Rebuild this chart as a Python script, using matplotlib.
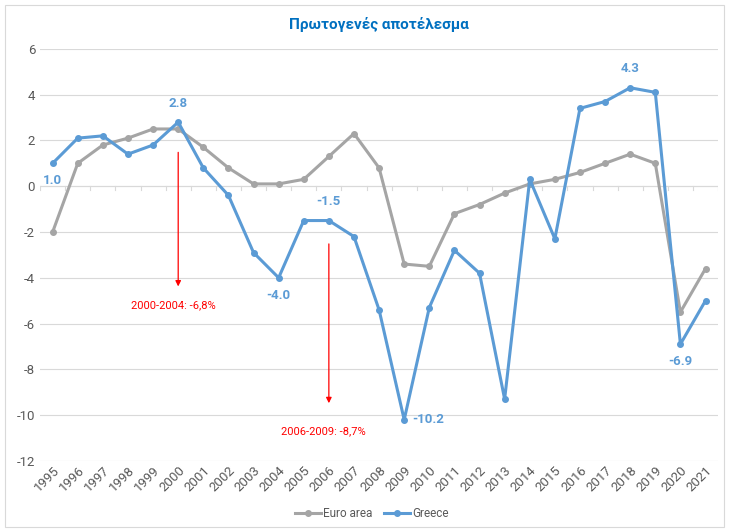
import matplotlib
matplotlib.use("Agg")
import matplotlib.pyplot as plt
from matplotlib.patches import Rectangle

years = [str(y) for y in range(1995, 2022)]
euro_area = [-2.0, 1.0, 1.8, 2.1, 2.5, 2.5, 1.7, 0.8, 0.1, 0.1, 0.3, 1.3, 2.3, 0.8,
             -3.4, -3.5, -1.2, -0.8, -0.3, 0.1, 0.3, 0.6, 1.0, 1.4, 1.0, -5.5, -3.6]
greece = [1.0, 2.1, 2.2, 1.4, 1.8, 2.8, 0.8, -0.4, -2.9, -4.0, -1.5, -1.5, -2.2, -5.4,
          -10.2, -5.3, -2.8, -3.8, -9.3, 0.3, -2.3, 3.4, 3.7, 4.3, 4.1, -6.9, -5.0]
yticks = [6, 4, 2, 0, -2, -4, -6, -8, -10, -12]
labeled = {"1995": "below", "2000": "above", "2004": "below", "2006": "above",
           "2009": "right", "2018": "above", "2020": "below"}
annotations = [("2000", 1.6, -4.5, "2000-2004: -6,8%", -5.2),
               ("2006", -2.4, -9.6, "2006-2009: -8,7%", -10.7)]

plt.rcParams['font.family'] = ['Roboto', 'DejaVu Sans']
fig = plt.figure(figsize=(7.29, 5.31), dpi=100)
ax = fig.add_axes([0.055, 0.132, 0.930, 0.776])

fig.patches.append(Rectangle((0.007, 0.007), 0.986, 0.983, transform=fig.transFigure,
                             fill=False, edgecolor='#D9D9D9', linewidth=0.8))

x = list(range(len(years)))
ax.plot(x, euro_area, color='#A5A5A5', lw=2.2, marker='o', ms=4, label='Euro area', zorder=3)
ax.plot(x, greece, color='#5B9BD5', lw=2.2, marker='o', ms=4, label='Greece', zorder=4)

ax.set_xlim(-0.5, len(years) - 0.5)
ax.set_ylim(-12, 6)
ax.set_yticks(yticks)
ax.set_yticklabels([str(v) for v in yticks])
ax.set_xticks(x)
ax.set_xticklabels(years, rotation=45, ha='right', rotation_mode='anchor')
ax.grid(axis='y', color='#D9D9D9', lw=0.8)
ax.set_axisbelow(True)
for s in ax.spines.values():
    s.set_visible(False)
ax.axhline(0, color='#D9D9D9', lw=0.8, zorder=1)
for i in range(len(years) + 1):
    ax.plot([i - 0.5, i - 0.5], [0, -0.15], color='#D9D9D9', lw=0.8, zorder=1)
ax.tick_params(axis='both', length=0, colors='#595959', labelsize=9.5)
ax.tick_params(axis='x', pad=2)

for yr, pos in labeled.items():
    i = years.index(yr)
    v = greece[i]
    txt = f"{v:.1f}"
    kw = dict(textcoords='offset points', color='#5B9BD5', fontsize=9.5, fontweight='bold')
    if pos == "above":
        ax.annotate(txt, (i, v), xytext=(0, 9), ha='center', va='bottom', **kw)
    elif pos == "below":
        ax.annotate(txt, (i, v), xytext=(0, -8), ha='center', va='top', **kw)
    else:
        ax.annotate(txt, (i, v), xytext=(6, 0), ha='left', va='center', **kw)

for yr, y0, y1, txt, ty in annotations:
    i = years.index(yr)
    ax.annotate('', xy=(i, y1), xytext=(i, y0),
                arrowprops=dict(arrowstyle='-|>', color='red', lw=0.9, mutation_scale=8))
    ax.text(i - 0.2, ty, txt, color='red', fontsize=8, ha='center', va='center')

ax.set_title('Πρωτογενές αποτέλεσμα', color='#0070C0', fontsize=11, fontweight='bold', pad=14)
fig.legend(loc='lower center', bbox_to_anchor=(0.51, 0.0), ncol=2, frameon=False,
           fontsize=8.5, labelcolor='#595959', handlelength=2.2, columnspacing=1.0, handletextpad=0.2)

fig.savefig('out.png', dpi=100)
